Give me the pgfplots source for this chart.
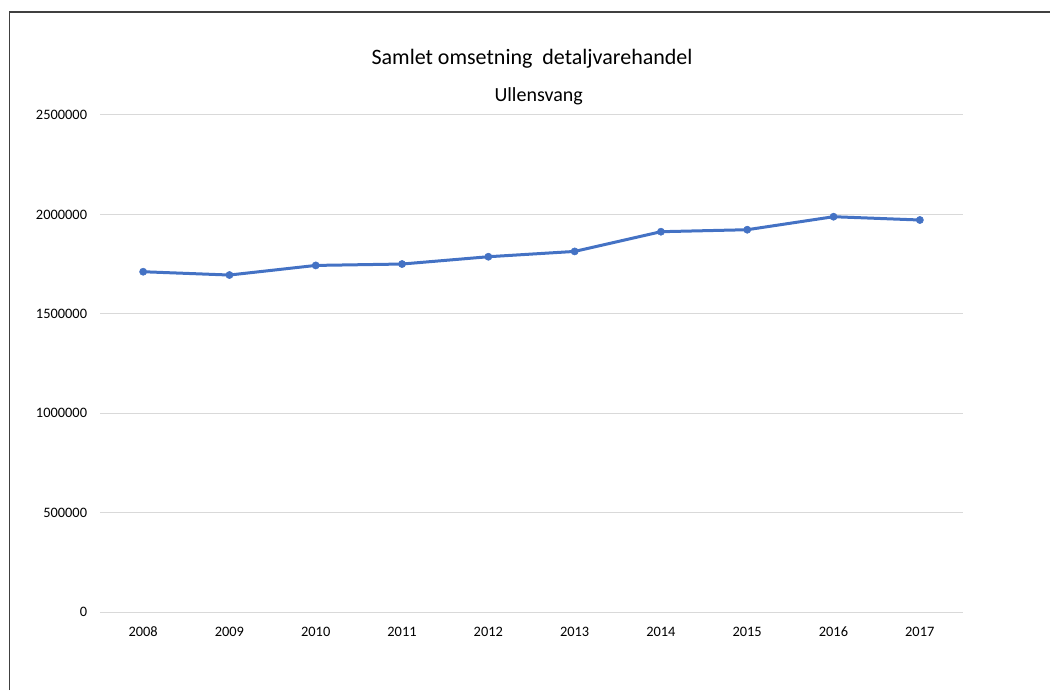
\documentclass[border=0pt]{standalone}
\usepackage{pgfplots}
\pgfplotsset{compat=1.18}
\usepackage{fontspec}
\setmainfont{Carlito}
\definecolor{serie}{HTML}{4472C4}
\definecolor{gridc}{HTML}{D9D9D9}
\definecolor{framec}{HTML}{404040}
\begin{document}
\begin{tikzpicture}
\useasboundingbox (0,0) rectangle (787.5pt,517.5pt);
\draw[framec, line width=0.9pt] (7pt,0) -- (7pt,508.5pt) -- (787.5pt,508.5pt);
\node[anchor=base, inner sep=0pt, font=\fontsize{16.5}{19}\selectfont] at (399pt,469.3pt) {Samlet omsetning\ \ detaljvarehandel};
\node[anchor=base, inner sep=0pt, font=\fontsize{15}{18}\selectfont] at (404pt,441.2pt) {Ullensvang};
\begin{axis}[
  at={(75pt,58.3pt)}, anchor=south west,
  scale only axis, width=647.25pt, height=373pt,
  xmin=2007.5, xmax=2017.5, ymin=0, ymax=2500000,
  scaled y ticks=false, scaled x ticks=false,
  xtick={2008,...,2017},
  xticklabels={2008,2009,2010,2011,2012,2013,2014,2015,2016,2017},
  ytick={0,500000,1000000,1500000,2000000,2500000},
  yticklabels={0,500000,1000000,1500000,2000000,2500000},
  axis line style={draw=none},
  major tick length=0pt,
  ymajorgrids, grid style={gridc, line width=0.75pt},
  ticklabel style={font=\fontsize{10.8}{13}\selectfont, inner sep=0pt},
  yticklabel style={anchor=east, xshift=-9.5pt},
  xticklabel style={anchor=base, yshift=-17.8pt},
  clip=false,
]
\addplot[serie, line width=2.25pt, line join=round, mark=*, mark size=2.7pt, mark options={solid, fill=serie, draw=serie, line width=0.4pt}]
coordinates {
(2008,1711800) (2009,1695200) (2010,1743500) (2011,1750500) (2012,1787200)
(2013,1813900) (2014,1913000) (2015,1923000) (2016,1988400) (2017,1971800)
};
\end{axis}
\end{tikzpicture}
\end{document}
